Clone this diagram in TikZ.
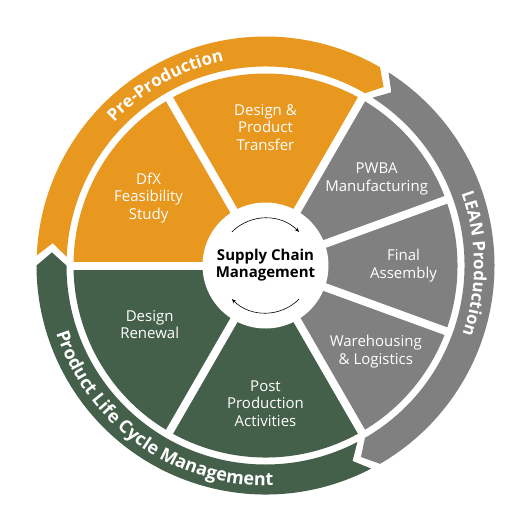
\documentclass[tikz,border=0pt]{standalone}
\usepackage{fontspec}
\setmainfont{Open Sans}
\usepackage{tikz}
\usetikzlibrary{arrows.meta,decorations.text}
\definecolor{preorange}{HTML}{E8971F}
\definecolor{leangray}{HTML}{808080}
\definecolor{plcgreen}{HTML}{45604A}
\newcommand{\bandfont}{\fontsize{17}{20}\selectfont\bfseries}

\begin{document}
\begin{tikzpicture}[x=1pt,y=1pt,>={Stealth[length=4.5pt,width=3.6pt]},semithick]
\tikzstyle{sectorlabel}=[text=white,align=center,font=\fontsize{15}{17.5}\selectfont]
\tikzstyle{bandtext}=[decorate,decoration={text along path,text align=center,text color=white}]

\useasboundingbox (-265.5,-265.5) rectangle (265.5,265.5);

\fill[preorange] (0,0) -- (180:192) arc[start angle=180,end angle=60,radius=192] -- cycle;
\fill[leangray]  (0,0) -- (60:192) arc[start angle=60,end angle=-60,radius=192] -- cycle;
\fill[plcgreen]  (0,0) -- (-60:192) arc[start angle=-60,end angle=-180,radius=192] -- cycle;
\foreach \a in {180,120,60,20,-20,-60,-120}
	\draw[white,line width=8] (0,0) -- (\a:200);
\fill[white] (0,0) circle (63);

\foreach \t/\h/\c in {177.5/60/preorange,57.5/-60/leangray,-62.5/-180/plcgreen}
	\fill[\c] (\t:229) arc[start angle=\t,end angle=\h,radius=229] -- ({\h-3.5}:214) -- (\h:199)
		arc[start angle=\h,end angle=\t,radius=199] -- ({\t-3.5}:214) -- cycle;

\path[bandtext,decoration={text={|\bandfont|Pre-Production}}] (165:208.5) arc[start angle=165,end angle=73,radius=208.5];
\path[bandtext,decoration={text={|\bandfont|LEAN Production}}] (46:208.5) arc[start angle=46,end angle=-45,radius=208.5];
\path[bandtext,decoration={text={|\fontsize{18}{20}\selectfont\bfseries|Product Life Cycle Management}}] (180:220) arc[start angle=180,end angle=290,radius=220];

\node[sectorlabel] (dfx)  at (150:135)  {DfX\\Feasibility\\Study};
\node[sectorlabel] (dpt)  at (90:138)   {Design \&\\Product\\Transfer};
\node[sectorlabel] (pwba) at (38:141)   {PWBA\\Manufacturing};
\node[sectorlabel] (fa)   at (0:138)    {Final\\Assembly};
\node[sectorlabel] (wl)   at (-38:140)  {Warehousing\\\& Logistics};
\node[sectorlabel] (ppa)  at (-90:138)  {Post\\Production\\Activities};
\node[sectorlabel] (dr)   at (-153:130) {Design\\Renewal};

\node[align=center,font=\fontsize{15}{17}\selectfont\bfseries] (scm) at (0,0) {Supply Chain\\Management};
\draw[->,line width=0.6] (135:47.5) arc[start angle=135,end angle=45,radius=47.5];
\draw[->,line width=0.6] (-45:47.5) arc[start angle=-45,end angle=-135,radius=47.5];
\end{tikzpicture}
\end{document}
